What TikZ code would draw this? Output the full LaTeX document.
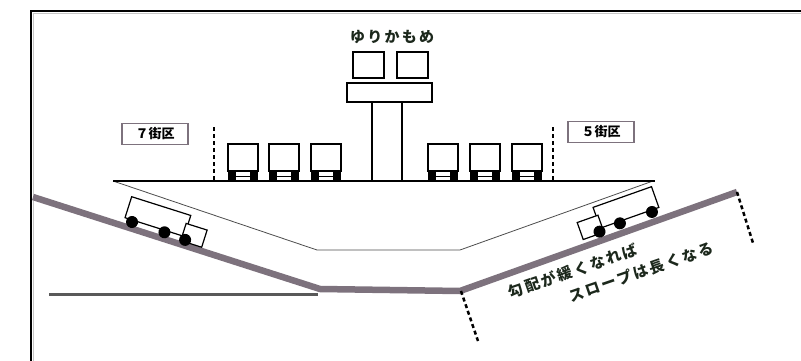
\documentclass[tikz,border=0pt]{standalone}
\usepackage{fontspec}
\newfontfamily\jp{Noto Sans CJK JP}
\usetikzlibrary{positioning}
\definecolor{roadgray}{RGB}{125,114,125}
\definecolor{inkgreen}{RGB}{28,40,28}
\tikzset{
    truck/.pic={
        % Cargo box
        \draw[line width=1.2pt, fill=white] (2,8) rectangle (64,30);
        % Cab
        \draw[line width=1.2pt, fill=white] (62,3) rectangle (84,21);
        % Wheels
        \fill (10,6) circle (6pt);
        \fill (44,6) circle (6pt);
        \fill (66,5) circle (6pt);
    },
    wagon/.pic={
        % Body
        \draw[line width=2pt] (0,10) rectangle (30,37);
        % Feet
        \fill (0,0) rectangle (8,10);
        \fill (22,0) rectangle (30,10);
        \draw[line width=1pt] (8,5) -- (22,5);
    },
    districtbox/.style={draw=roadgray, line width=1.2pt, inner sep=1pt, minimum width=66pt, minimum height=21pt,
        font=\jp\bfseries\fontsize{13}{13}\selectfont},
    jptext/.style={text=inkgreen, font=\jp\bfseries\fontsize{15}{23}\selectfont\addfontfeature{LetterSpace=15}},
    boundary/.style={line width=2.5pt, dash pattern=on 4pt off 3pt},
}

\begin{document}
\begin{tikzpicture}[x=1pt, y=1pt]

            \useasboundingbox (0,0) rectangle (801,-361);

            % Frame
            \draw[gray!45, line width=1.5pt] (33.5,-361) -- (33.5,-13.5) -- (801,-13.5);
            \draw[line width=2pt] (31,-361) -- (31,-11) -- (801,-11);

            % Road down to the underpass and back up
            \draw[roadgray, line width=6.5pt] (33,-197) -- (320,-289) -- (460,-291) -- (737,-192);
            \draw[black!65, line width=3pt] (49,-294) -- (318,-294);

            % Cut below the deck
            \draw[black!70, line width=0.8pt] (113,-181) -- (317,-250) -- (460,-250) -- (653,-181);

            % Deck
            \draw[line width=1.6pt] (113,-181) -- (655,-181);

            % Pillar and track
            \draw[line width=2pt, fill=white] (372,-102) rectangle (402,-181);
            \draw[line width=2pt, fill=white] (347,-83) rectangle (432,-102);
            \draw[line width=2pt] (353,-52) rectangle (384,-78);
            \draw[line width=2pt] (397,-52) rectangle (428,-78);
            \node[jptext] (line) at (392,-37) {ゆりかもめ};

            % Wagons on the deck
            \foreach \x in {228,269,311,428,470,512}
                \pic at (\x,-181) {wagon};

            % Block borders
            \draw[boundary] (214,-127) -- (214,-180);
            \draw[boundary] (553,-127) -- (553,-180);
            \node[districtbox] (block7) at (155,-134) {７街区};
            \node[districtbox] (block5) at (601,-132) {５街区};

            % Trucks on the slopes
            \pic[rotate=-17.6] at (120.7,-224.7) {truck};
            \pic[rotate=19.5, xscale=-1] at (663.4,-214.3) {truck};

            % Slope ends
            \draw[boundary] (737,-192) -- (753,-243);
            \draw[boundary] (461,-291) -- (478,-341);

            % Note along the slope
            \node[jptext, rotate=19, align=left, inner sep=0pt] (note) at (611,-270)
                {勾配が緩くなれば\\\hspace*{56pt}スロープは長くなる};

        \end{tikzpicture}
\end{document}
